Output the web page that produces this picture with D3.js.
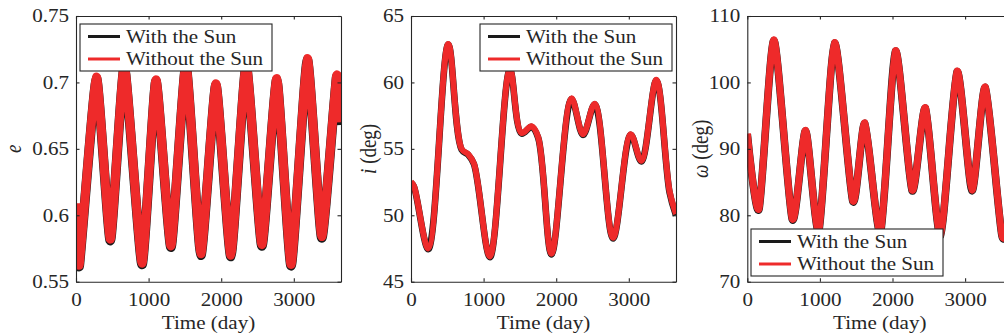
<!DOCTYPE html>
<html><head><meta charset="utf-8">
<script src="https://cdn.jsdelivr.net/npm/d3@7"></script>
<style>
body{margin:0;background:#fff}
svg{display:block}
text{font-family:"Liberation Serif","Times New Roman",serif;fill:#262626}
</style>
</head><body>
<svg id="c" width="1004" height="335"></svg>
<script>
// ---------- data ----------
const seriesNames = ["With the Sun", "Without the Sun"];
const xTicks = [0, 1000, 2000, 3000];
const xTickLabels = ["0", "1000", "2000", "3000"];

// eccentricity
const timeE = [0, 45, 281, 473, 666, 909, 1101, 1308, 1514, 1720, 1927, 2133, 2344, 2560, 2766, 2963, 3186, 3385, 3590, 3650];
const eWithSun    = [0.608, 0.562, 0.703, 0.581, 0.712, 0.563, 0.701, 0.576, 0.713, 0.570, 0.698, 0.569, 0.713, 0.577, 0.702, 0.562, 0.717, 0.583, 0.704, 0.668];
const eWithoutSun = [0.609, 0.563, 0.704, 0.582, 0.713, 0.564, 0.702, 0.577, 0.714, 0.571, 0.699, 0.570, 0.714, 0.578, 0.703, 0.563, 0.718, 0.584, 0.705, 0.670];
const eTicks = [0.55, 0.6, 0.65, 0.7, 0.75];
const eTickLabels = ["0.55", "0.6", "0.65", "0.7", "0.75"];

// inclination
const timeI = [0, 40, 238, 513, 697, 789, 867, 1087, 1362, 1522, 1660, 1751, 1935, 2210, 2370, 2531, 2783, 3026, 3173, 3379, 3562, 3650];
const iWithSun    = [52.45, 52.15, 47.45, 62.85, 54.95, 54.55, 53.85, 46.85, 60.95, 56.15, 56.65, 55.85, 47.05, 58.75, 56.05, 58.35, 48.25, 56.05, 54.05, 60.15, 51.7, 50.0];
const iWithoutSun = [52.5, 52.2, 47.5, 62.9, 55.0, 54.6, 53.9, 46.9, 61.0, 56.2, 56.7, 55.9, 47.1, 58.8, 56.1, 58.4, 48.3, 56.1, 54.1, 60.2, 51.8, 50.1];
const iTicks = [45, 50, 55, 60, 65];
const iTickLabels = ["45", "50", "55", "60", "65"];

// argument of pericenter
const timeW = [0, 161, 367, 619, 803, 986, 1202, 1454, 1619, 1835, 2041, 2270, 2454, 2660, 2889, 3095, 3279, 3508, 3650];
const wWithSun    = [92.2, 80.9, 106.3, 79.4, 92.7, 77.7, 105.9, 82.1, 93.8, 77.4, 104.7, 83.7, 96.1, 76.9, 101.6, 83.7, 99.2, 76.9, 80.9];
const wWithoutSun = [92.3, 81.0, 106.4, 79.5, 92.8, 77.8, 106.0, 82.2, 93.9, 77.5, 104.8, 83.8, 96.2, 77.0, 101.7, 83.8, 99.3, 77.0, 81.0];
const wTicks = [70, 80, 90, 100, 110];
const wTickLabels = ["70", "80", "90", "100", "110"];

// ---------- drawing ----------
const svg = d3.select("#c");
const SX = 1.17;           // horizontal stretch of the text in the original figure
const TOP = 16, BOTTOM = 281.7, PW = 265;
const AX = "#262626";
const RED = "#ee2a2a", BLACK = "#1a1a1a";

function panel(o, idx) {
  const g = svg.append("g");
  const x = d3.scaleLinear().domain([0, 3650]).range([o.left, o.left + PW]);
  const y = d3.scaleLinear().domain(o.yDomain).range([BOTTOM, TOP]);

  const clipId = "clip" + idx;
  svg.append("clipPath").attr("id", clipId).append("rect")
    .attr("x", o.left).attr("y", TOP).attr("width", PW).attr("height", BOTTOM - TOP);

  const line = d3.line().x(d => x(d[0])).y(d => y(d[1])).curve(o.curve);
  const lg = g.append("g").attr("clip-path", `url(#${clipId})`);
  lg.append("path").datum(o.t.map((t, k) => [t, o.black[k]]))
    .attr("d", line).attr("fill", "none").attr("stroke", BLACK)
    .attr("stroke-width", o.sw + 0.6).attr("stroke-linejoin", "round");
  lg.append("path").datum(o.t.map((t, k) => [t, o.red[k]]))
    .attr("d", line).attr("fill", "none").attr("stroke", RED)
    .attr("stroke-width", o.sw).attr("stroke-linejoin", "round");

  // axes
  const styleAx = sel => { sel.selectAll("path,line").attr("stroke", AX).attr("stroke-width", 1.1); };
  const bx = g.append("g").attr("transform", `translate(0,${BOTTOM})`)
    .call(d3.axisBottom(x).tickValues(xTicks).tickFormat((d, k) => xTickLabels[k])
      .tickSizeInner(-3.5).tickSizeOuter(0).tickPadding(12));
  styleAx(bx);
  bx.selectAll("text").attr("font-size", 18).attr("fill", AX)
    .attr("font-family", "Liberation Serif").attr("transform", `scale(${SX},1)`);
  const tx = g.append("g").attr("transform", `translate(0,${TOP})`)
    .call(d3.axisTop(x).tickValues(xTicks).tickFormat("").tickSizeInner(-3.5).tickSizeOuter(0));
  styleAx(tx);
  const ly = g.append("g").attr("transform", `translate(${o.left},0)`)
    .call(d3.axisLeft(y).tickValues(o.ticks).tickFormat((d, k) => o.tickLabels[k])
      .tickSizeInner(-3.5).tickSizeOuter(0).tickPadding(8));
  styleAx(ly);
  ly.selectAll("text").attr("font-size", 18).attr("fill", AX)
    .attr("font-family", "Liberation Serif")
    .attr("x", -7 / SX).attr("transform", `scale(${SX},1)`);
  const ry = g.append("g").attr("transform", `translate(${o.left + PW},0)`)
    .call(d3.axisRight(y).tickValues(o.ticks).tickFormat("").tickSizeInner(-3.5).tickSizeOuter(0));
  styleAx(ry);
  g.selectAll(".domain").attr("stroke", AX).attr("stroke-width", 1.1);

  // x label
  g.append("text").attr("transform", `translate(${o.left + PW / 2},328.5) scale(${SX},1)`)
    .attr("text-anchor", "middle").attr("font-size", 18).text("Time (day)");

  // y label
  const yl = g.append("text")
    .attr("transform", `translate(${o.ylx},${(TOP + BOTTOM) / 2}) scale(${SX},1) rotate(-90)`)
    .attr("text-anchor", "middle").attr("font-size", 19);
  yl.append("tspan").attr("font-style", "italic").text(o.ySym);
  if (o.yUnit) yl.append("tspan").text(o.yUnit);

  // legend
  const L = g.append("g").attr("transform", `translate(${o.legX},${o.legY})`);
  L.append("rect").attr("x", 0).attr("y", 0).attr("width", 192).attr("height", 47)
    .attr("fill", "#fff").attr("stroke", AX).attr("stroke-width", 1.1);
  const cols = [BLACK, RED];
  seriesNames.forEach((n, k) => {
    const cy = 12.5 + k * 22.5;
    L.append("line").attr("x1", 8).attr("x2", 40).attr("y1", cy).attr("y2", cy)
      .attr("stroke", cols[k]).attr("stroke-width", 3);
    L.append("text").attr("transform", `translate(46,${cy + 6}) scale(${SX},1)`)
      .attr("font-size", 18).text(n);
  });
}

panel({left: 76, yDomain: [0.55, 0.75], ticks: eTicks, tickLabels: eTickLabels,
       t: timeE, black: eWithSun, red: eWithoutSun, sw: 9, curve: d3.curveCardinal.tension(0.55),
       ylx: 20.5, ySym: "e", yUnit: "", legX: 80, legY: 24}, 0);
panel({left: 411, yDomain: [45, 65], ticks: iTicks, tickLabels: iTickLabels,
       t: timeI, black: iWithSun, red: iWithoutSun, sw: 6, curve: d3.curveCatmullRom.alpha(0.5),
       ylx: 376, ySym: "i", yUnit: " (deg)", legX: 480, legY: 24}, 1);
panel({left: 747.3, yDomain: [70, 110], ticks: wTicks, tickLabels: wTickLabels,
       t: timeW, black: wWithSun, red: wWithoutSun, sw: 7, curve: d3.curveCardinal.tension(0.3),
       ylx: 708, ySym: "ω", yUnit: " (deg)", legX: 751, legY: 229}, 2);
</script>
</body></html>
